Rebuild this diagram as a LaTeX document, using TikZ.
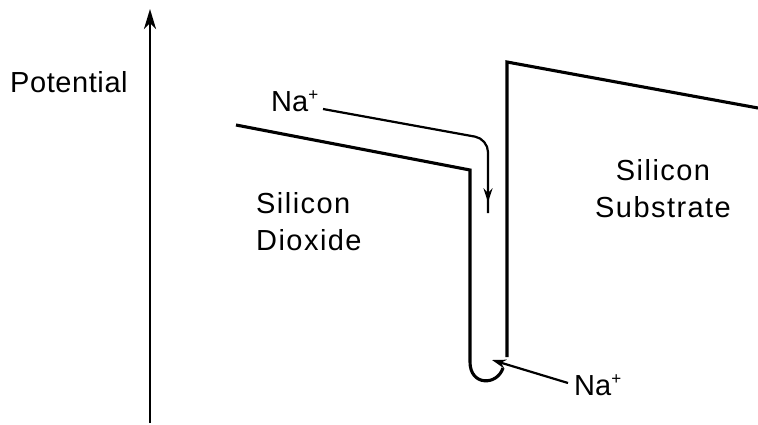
\documentclass[tikz,border=0pt]{standalone}
\usepackage{fontspec}
\setmainfont{Liberation Sans}
\newfontfamily\widefont[LetterSpace=5]{Liberation Sans}
\newfontfamily\potfont[LetterSpace=2]{Liberation Sans}
\usetikzlibrary{arrows.meta,decorations.markings}
\newcommand{\plusup}{\raisebox{11pt}{\fontsize{17}{17}\selectfont +}}
\begin{document}
\begin{tikzpicture}[x=1pt,y=-1pt,
  lbl/.style={inner sep=0pt,font=\fontsize{29}{36}\selectfont},
  band/.style={line width=3.1pt,line join=miter},
  ion/.style={line width=2.2pt},
  tip/.style={-{Stealth[length=14pt,width=9pt]}}]
\useasboundingbox (0,0) rectangle (758,425);
% axis
\coordinate (axb) at (150,423);
\coordinate (axt) at (150,9);
\draw[line width=2.6pt,-{Stealth[length=20pt,width=12pt,inset=6pt]}] (axb) -- (axt);
% labels
\node[lbl,anchor=base west] (pot) at (10,93) {\potfont Potential};
\node[lbl,anchor=base west] (naA) at (271,112) {Na\plusup};
\node[lbl,anchor=base west] (naB) at (574,395) {Na\plusup};
\node[lbl,anchor=base west,align=left] (sio) at (256,250) {\widefont Silicon\\\widefont Dioxide};
\node[lbl,anchor=base,align=center] (sis) at (663,217) {\widefont Silicon\\\widefont Substrate};
% oxide band edge
\coordinate (o1) at (236,125);
\coordinate (o2) at (470,170);
\coordinate (o3) at (470,362);
\coordinate (o4) at (503,368);
\draw[band] (o1) -- (o2) -- (o3) .. controls (470,386) and (497,386) .. (o4);
% substrate band edge
\coordinate (s1) at (507,357);
\coordinate (s2) at (507,62);
\coordinate (s3) at (758,108);
\draw[band] (s1) -- (s2) -- (s3);
% ion path top
\coordinate (p1) at (323,109);
\coordinate (p2) at (488,139);
\coordinate (p3) at (488,213);
\draw[ion,rounded corners=13pt,postaction={decorate},
  decoration={markings,mark=at position 0.955 with {\arrow{Stealth[length=14pt,width=9pt]}}}]
  (p1) -- (p2) -- (p3);
% ion arrow bottom
\coordinate (q1) at (568,383);
\coordinate (q2) at (492,360);
\draw[ion,tip] (q1) -- (q2);
\end{tikzpicture}
\end{document}
